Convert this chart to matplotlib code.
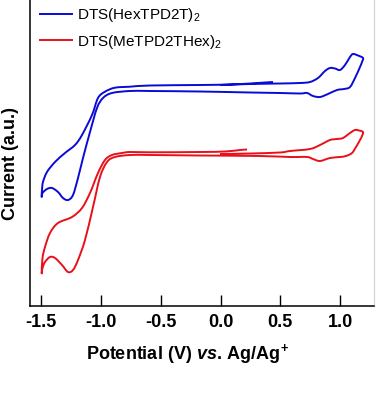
import matplotlib
matplotlib.use("Agg")
import matplotlib.pyplot as plt
from matplotlib.path import Path
from matplotlib.patches import PathPatch
from matplotlib.lines import Line2D
import numpy as np

plt.rcParams['font.family'] = ['Liberation Sans', 'DejaVu Sans']
plt.rcParams['axes.unicode_minus'] = False
plt.rcParams['mathtext.fontset'] = 'custom'
plt.rcParams['mathtext.rm'] = 'Liberation Sans:bold'
plt.rcParams['mathtext.it'] = 'Liberation Sans:italic:bold'
plt.rcParams['mathtext.bf'] = 'Liberation Sans:bold'
plt.rcParams['mathtext.sf'] = 'Liberation Sans'

# ---- data (in pixel positions; converted to V and a.u. below) ----
blue_px = [220, 250, 280, 300, 310, 318, 325, 330, 335, 340, 345, 350, 353, 358, 363,
           362, 360, 355, 350, 344, 337, 328, 320, 313, 307, 300, 280, 250, 200, 150,
           130, 112, 103, 97, 90, 83, 78, 73, 68, 63, 58, 52, 47, 42.5, 41.7,
           42, 43, 47, 55, 65, 75, 82, 92, 98, 105, 115, 130, 150, 200, 230, 250, 265, 273]
blue_py = [85, 84, 83.5, 83, 82, 78, 71, 68, 68.5, 70, 65, 57, 54, 55.5, 58,
           62, 67, 78, 87, 89, 90, 94, 97, 96, 93, 93.5, 93, 92.5, 91.5, 91,
           91, 93, 98, 108, 132, 158, 178, 195, 200, 198, 192, 188, 189, 193, 197,
           190, 182, 172, 162, 153, 145, 135, 115, 98, 91.7, 87.7, 86.7, 85.5, 85, 84.5, 83.5, 82.5, 82]

red_px = [220, 250, 280, 290, 310, 320, 330, 337, 343, 350, 355, 359, 363,
          362, 360, 356, 352, 346, 340, 330, 320, 313, 307, 290, 260, 200, 150,
          130, 115, 107, 100, 93, 85, 78, 73, 68, 62, 55, 50, 45, 42.5, 41.7,
          42.5, 45, 50, 58, 72, 82, 90, 98, 105, 112, 122, 130, 150, 200, 225, 240, 247]
red_py = [154, 153.5, 152.5, 151, 149, 145, 140, 139, 138, 133, 130, 130.5, 132,
          136, 140, 147, 153, 156, 157, 158, 161, 159, 157, 157, 156, 155.5, 155,
          155, 157, 162, 177, 207, 240, 260, 270, 272, 265, 258, 257, 262, 268, 273,
          258, 247, 233, 223, 217, 208, 193, 173, 160, 155, 153, 152, 152.3, 152, 151.5, 150, 149.5]

labels = ['DTS(HexTPD2T)$_\\mathsf{2}$', 'DTS(MeTPD2THex)$_\\mathsf{2}$']
colors = ['#0a0ad8', '#e8101a']
xticks = [-1.5, -1.0, -0.5, 0.0, 0.5, 1.0]


def to_volt(px):
    return (np.asarray(px, float) - 220.5) / 119.7


def to_current(py):
    return (306.0 - np.asarray(py, float)) / 100.0


def smooth_path(x, y):
    """Smooth curve through the given points (Catmull-Rom as cubic Bezier)."""
    p = np.column_stack([x, y])
    n = len(p)
    verts = [p[0]]
    codes = [Path.MOVETO]
    for i in range(n - 1):
        p0 = p[i - 1] if i > 0 else p[i]
        p1, p2 = p[i], p[i + 1]
        p3 = p[i + 2] if i + 2 < n else p[i + 1]
        c1 = p1 + (p2 - p0) / 6.0
        c2 = p2 - (p3 - p1) / 6.0
        verts += [c1, c2, p2]
        codes += [Path.CURVE4] * 3
    return Path(verts, codes)


fig = plt.figure(figsize=(3.76, 3.98), dpi=100)
ax = fig.add_axes([30/376, 92/398, 344/376, 306/398])

for px, py, c in [(blue_px, blue_py, colors[0]), (red_px, red_py, colors[1])]:
    path = smooth_path(to_volt(px), to_current(py))
    ax.add_patch(PathPatch(path, facecolor='none', edgecolor=c, lw=1.4,
                           joinstyle='round', capstyle='butt'))

ax.set_xlim(to_volt(30), to_volt(374))
ax.set_ylim(0, 3.06)
ax.set_xticks(xticks)
ax.set_xticklabels([f'{t:.1f}' for t in xticks], fontsize=13, fontweight='bold')
ax.set_yticks([])
ax.tick_params(axis='x', direction='in', length=8, width=1, pad=6)
ax.spines['top'].set_visible(False)
ax.spines['right'].set_color('#d0d0d0')
ax.spines['left'].set_linewidth(1.1)
ax.spines['bottom'].set_linewidth(1.1)

ax.set_xlabel(r'Potential (V) $vs.\,$Ag/Ag$^{+}$', fontsize=13, fontweight='bold')
ax.xaxis.set_label_coords(0.458, -0.118)
ax.set_ylabel('Current (a.u.)', fontsize=13, fontweight='bold')
ax.yaxis.set_label_coords(-0.032, 0.465)

handles = [Line2D([], [], color=c, lw=1.4) for c in colors]
ax.legend(handles, labels, loc='upper left', bbox_to_anchor=(0.029, 0.98), frameon=False,
          fontsize=11, handlelength=2.1, handletextpad=0.33, borderpad=0,
          borderaxespad=0, labelspacing=0.55)

fig.savefig('out.png', dpi=100)
